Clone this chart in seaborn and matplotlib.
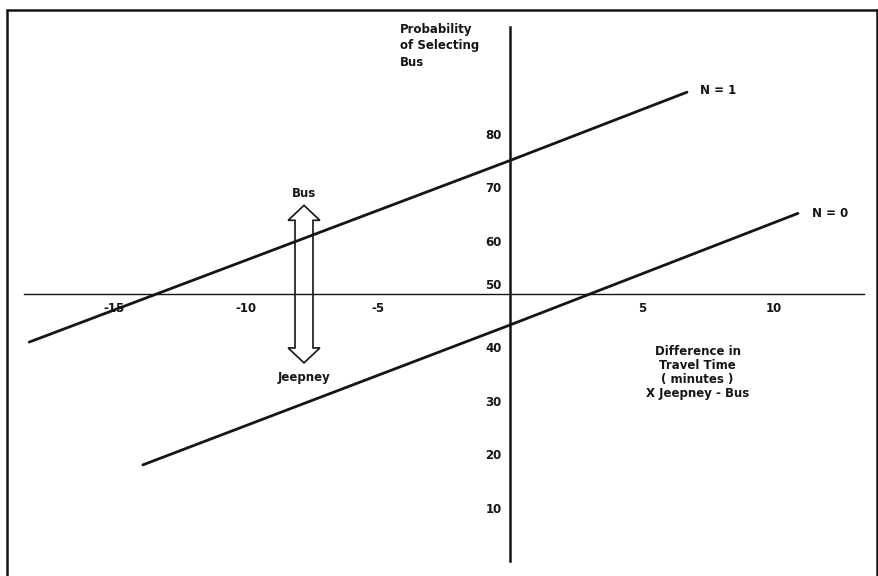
import numpy as np
import pandas as pd
import matplotlib
matplotlib.use("Agg")
import matplotlib.pyplot as plt
import matplotlib.patches as mpatches
import matplotlib.transforms as mtransforms
from matplotlib.lines import Line2D
import seaborn as sns

# =========================
# DATA
# =========================
travel_diff_n1 = [-18.2, 0.0, 6.7]
prob_bus_n1 = [41.0, 75.0, 87.8]

travel_diff_n0 = [-13.9, 0.0, 10.9]
prob_bus_n0 = [18.0, 44.2, 65.1]

x_ticks = [-15, -10, -5, 5, 10]
x_tick_labels = ["-15", "-10", "-5", "5", "10"]
y_ticks = [10, 20, 30, 40, 50, 60, 70, 80]
y_tick_labels = ["10", "20", "30", "40", "50", "60", "70", "80"]

df = pd.concat([
    pd.DataFrame({"diff": travel_diff_n1, "prob": prob_bus_n1, "N": "N = 1"}),
    pd.DataFrame({"diff": travel_diff_n0, "prob": prob_bus_n0, "N": "N = 0"}),
])

# =========================
# STYLE
# =========================
sns.set_theme(style="white")
plt.rcParams["font.family"] = ["DejaVu Sans"]
plt.rcParams["axes.unicode_minus"] = False

ink = "#151515"
font_kw = dict(fontsize=8.5, fontweight="bold", color=ink)

fig = plt.figure(figsize=(8.79, 5.76), dpi=100)
ax = fig.add_axes([24 / 879, 15 / 576, 840 / 879, 534 / 576])

# =========================
# LINES
# =========================
sns.lineplot(
    data=df,
    x="diff",
    y="prob",
    units="N",
    estimator=None,
    color=ink,
    linewidth=2.0,
    sort=False,
    legend=False,
    ax=ax
)

ax.set_xlim(-18.4, 13.4)
ax.set_ylim(0, 100)

# =========================
# AXES THROUGH (0, 50)
# =========================
for side in ["top", "right"]:
    ax.spines[side].set_visible(False)

ax.spines["left"].set_position(("data", 0))
ax.spines["bottom"].set_position(("data", 50))
ax.spines["left"].set_linewidth(1.8)
ax.spines["bottom"].set_linewidth(1.0)
ax.spines["left"].set_color(ink)
ax.spines["bottom"].set_color(ink)

ax.set_xticks(x_ticks)
ax.set_xticklabels(x_tick_labels, **font_kw)
ax.set_yticks(y_ticks)
ax.set_yticklabels(y_tick_labels, **font_kw)

ax.tick_params(
    axis="both",
    direction="inout",
    length=6,
    width=1.0,
    color=ink,
    pad=3
)

# the "50" label sits just above the horizontal axis
for label in ax.get_yticklabels():
    if label.get_text() == "50":
        label.set_transform(
            label.get_transform()
            + mtransforms.ScaledTranslation(0, 7 / 72, fig.dpi_scale_trans)
        )

ax.set_xlabel("")
ax.set_ylabel("")

# =========================
# LABELS
# =========================
ax.text(
    -4.17, 100.8,
    "Probability\nof Selecting\nBus",
    ha="left", va="top", linespacing=1.35,
    **font_kw
)

ax.text(
    7.1, 40.5,
    "Difference in\nTravel Time\n( minutes )\nX Jeepney - Bus",
    ha="center", va="top", linespacing=1.1, multialignment="center",
    **font_kw
)

ax.text(7.2, 88.2, "N = 1", ha="left", va="center", **font_kw)
ax.text(11.45, 65.0, "N = 0", ha="left", va="center", **font_kw)

# =========================
# BUS / JEEPNEY ARROW
# =========================
cx, top, bot = -7.8, 66.6, 37.1
sw, hw, hl = 0.34, 0.6, 2.8

arrow = mpatches.Polygon(
    [
        (cx, top), (cx + hw, top - hl), (cx + sw, top - hl),
        (cx + sw, bot + hl), (cx + hw, bot + hl), (cx, bot),
        (cx - hw, bot + hl), (cx - sw, bot + hl),
        (cx - sw, top - hl), (cx - hw, top - hl),
    ],
    closed=True,
    facecolor="none",
    edgecolor=ink,
    linewidth=1.2
)
ax.add_patch(arrow)

ax.text(cx, top + 1.0, "Bus", ha="center", va="bottom", **font_kw)
ax.text(cx, bot - 1.5, "Jeepney", ha="center", va="top", **font_kw)

# =========================
# FRAME
# =========================
x0, x1 = 7 / 879, 877 / 879
y_top = 1 - 10 / 576
for xs, ys in [([x0, x0], [0, y_top]), ([x0, x1], [y_top, y_top]), ([x1, x1], [0, y_top])]:
    fig.add_artist(Line2D(xs, ys, transform=fig.transFigure, color=ink, linewidth=1.8))

fig.savefig("out.png", dpi=100)
plt.close(fig)
